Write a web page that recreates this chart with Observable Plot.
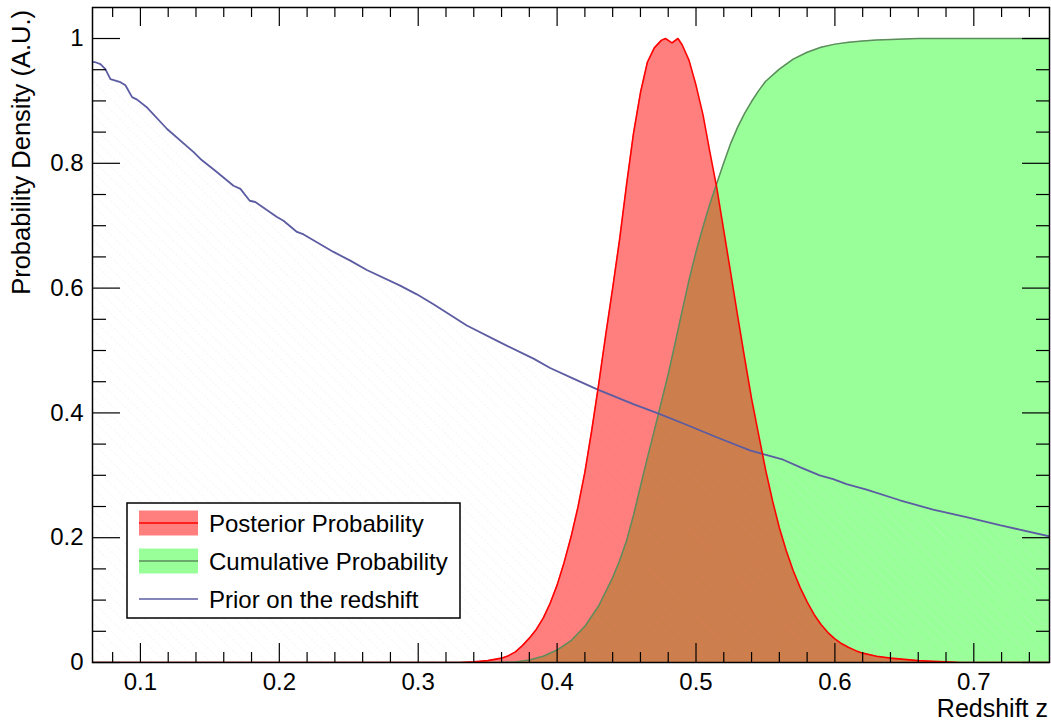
<!DOCTYPE html>
<html><head><meta charset="utf-8">
<script src="https://cdn.jsdelivr.net/npm/d3@7"></script>
<script src="https://cdn.jsdelivr.net/npm/@observablehq/plot@0.6"></script>
<style>body{margin:0;background:#fff;} svg{display:block}</style>
</head><body><div id="chart"></div>
<script>
// ---- data ----
const priorZ = [0.0655, 0.0676, 0.0712, 0.0748, 0.0784, 0.0856, 0.0892, 0.094, 0.0976, 0.105, 0.1192, 0.1383, 0.1432, 0.155, 0.167, 0.172, 0.1787, 0.1827, 0.1983, 0.203, 0.2127, 0.2175, 0.239, 0.2511, 0.263, 0.287, 0.299, 0.311, 0.335, 0.359, 0.383, 0.395, 0.4117, 0.4297, 0.4549, 0.4717, 0.4909, 0.5149, 0.5388, 0.5484, 0.5628, 0.5748, 0.589, 0.5988, 0.6084, 0.6228, 0.6468, 0.6707, 0.6947, 0.7187, 0.733, 0.7547];
const priorP = [0.962, 0.962, 0.959, 0.951, 0.935, 0.930, 0.925, 0.906, 0.902, 0.889, 0.855, 0.818, 0.807, 0.786, 0.764, 0.759, 0.740, 0.738, 0.714, 0.708, 0.690, 0.686, 0.658, 0.644, 0.629, 0.604, 0.590, 0.574, 0.540, 0.513, 0.487, 0.472, 0.455, 0.437, 0.414, 0.400, 0.383, 0.361, 0.340, 0.334, 0.325, 0.313, 0.300, 0.294, 0.286, 0.277, 0.260, 0.245, 0.233, 0.220, 0.213, 0.202];

const postZ = [0.0655, 0.33, 0.34, 0.35, 0.355, 0.36, 0.365, 0.37, 0.375, 0.38, 0.385, 0.39, 0.395, 0.40, 0.405, 0.41, 0.415, 0.42, 0.425, 0.43, 0.435, 0.44, 0.445, 0.45, 0.455, 0.46, 0.465, 0.47, 0.475, 0.478, 0.4827, 0.487, 0.49, 0.495, 0.50, 0.505, 0.51, 0.515, 0.52, 0.525, 0.53, 0.535, 0.54, 0.545, 0.55, 0.555, 0.56, 0.565, 0.57, 0.575, 0.58, 0.585, 0.59, 0.595, 0.60, 0.605, 0.61, 0.615, 0.62, 0.63, 0.64, 0.65, 0.66, 0.67, 0.68, 0.69, 0.7545];
const postP = [0, 0, 0.001, 0.003, 0.005, 0.007, 0.011, 0.017, 0.027, 0.039, 0.053, 0.071, 0.095, 0.124, 0.160, 0.201, 0.249, 0.305, 0.373, 0.447, 0.525, 0.600, 0.678, 0.766, 0.848, 0.913, 0.962, 0.985, 0.997, 1.0, 0.993, 1.0, 0.990, 0.965, 0.925, 0.878, 0.818, 0.760, 0.692, 0.624, 0.555, 0.488, 0.423, 0.366, 0.310, 0.260, 0.216, 0.179, 0.147, 0.120, 0.097, 0.077, 0.061, 0.048, 0.038, 0.030, 0.024, 0.019, 0.015, 0.010, 0.007, 0.005, 0.003, 0.002, 0.001, 0, 0];

const cumZ = [0.0655, 0.36, 0.37, 0.38, 0.39, 0.40, 0.41, 0.42, 0.43, 0.44, 0.445, 0.45, 0.455, 0.46, 0.465, 0.47, 0.475, 0.48, 0.485, 0.49, 0.495, 0.50, 0.505, 0.51, 0.515, 0.52, 0.525, 0.53, 0.535, 0.54, 0.545, 0.55, 0.56, 0.57, 0.58, 0.59, 0.60, 0.61, 0.62, 0.63, 0.64, 0.65, 0.66, 0.7545];
const cumP = [0, 0, 0.001, 0.004, 0.010, 0.020, 0.035, 0.058, 0.091, 0.136, 0.163, 0.195, 0.236, 0.282, 0.328, 0.372, 0.417, 0.462, 0.512, 0.563, 0.613, 0.658, 0.698, 0.735, 0.768, 0.801, 0.832, 0.858, 0.880, 0.899, 0.916, 0.931, 0.951, 0.967, 0.978, 0.986, 0.991, 0.994, 0.996, 0.9975, 0.9985, 0.9993, 1.0, 1.0];

const xMajor = [0.1, 0.2, 0.3, 0.4, 0.5, 0.6, 0.7];
const xMinor = [0.08, 0.12, 0.14, 0.16, 0.18, 0.22, 0.24, 0.26, 0.28, 0.32, 0.34, 0.36, 0.38, 0.42, 0.44, 0.46, 0.48, 0.52, 0.54, 0.56, 0.58, 0.62, 0.64, 0.66, 0.68, 0.72, 0.74];
const yMajor = [0, 0.2, 0.4, 0.6, 0.8, 1];
const yMinor = [0.05, 0.1, 0.15, 0.25, 0.3, 0.35, 0.45, 0.5, 0.55, 0.65, 0.7, 0.75, 0.85, 0.9, 0.95];

const legendLabels = ["Posterior Probability", "Cumulative Probability", "Prior on the redshift"];
const xTitle = "Redshift z";
const yTitle = "Probability Density (A.U.)";

// ---- build tables ----
const prior = priorZ.map((z, i) => ({z, p: priorP[i]}));
const post = postZ.map((z, i) => ({z, p: postP[i]}));
const cum = cumZ.map((z, i) => ({z, p: cumP[i]}));

const W = 1051, H = 724, mL = 92, mT = 7, mR = 2, mB = 62;
const iw = W - mL - mR, ih = H - mT - mB;
const FONT = "'Liberation Sans', Arial, Helvetica, sans-serif";

const RED = "#ff0000", GREEN = "#99ff99", GREENLINE = "#5e8c5e", BLUE = "#5c5ca2";

const svg = Plot.plot({
  width: W, height: H,
  marginLeft: mL, marginTop: mT, marginRight: mR, marginBottom: mB,
  style: {fontFamily: FONT, background: "#fff", color: "#000"},
  x: {domain: [0.0655, 0.7545]},
  y: {domain: [0, 1.0497]},
  marks: [
    Plot.areaY(cum, {x: "z", y: "p", fill: GREEN, clip: true}),
    Plot.areaY(prior, {x: "z", y: "p", fill: "url(#priorHatch)", clip: true}),
    Plot.areaY(post, {x: "z", y: "p", fill: RED, fillOpacity: 0.5, clip: true}),
    Plot.lineY(cum, {x: "z", y: "p", stroke: GREENLINE, strokeWidth: 1.5, clip: true}),
    Plot.lineY(prior, {x: "z", y: "p", stroke: BLUE, strokeWidth: 1.8, clip: true}),
    Plot.lineY(post, {x: "z", y: "p", stroke: RED, strokeWidth: 1.6, clip: true}),
    // ticks on all four sides, pointing inward
    Plot.tickX(xMajor, {x: d => d, insetTop: ih - 19, stroke: "#000", strokeWidth: 1.2}),
    Plot.tickX(xMinor, {x: d => d, insetTop: ih - 10, stroke: "#000", strokeWidth: 1.2}),
    Plot.tickX(xMajor, {x: d => d, insetBottom: ih - 19, stroke: "#000", strokeWidth: 1.2}),
    Plot.tickX(xMinor, {x: d => d, insetBottom: ih - 10, stroke: "#000", strokeWidth: 1.2}),
    Plot.tickY(yMajor, {y: d => d, insetRight: iw - 28, stroke: "#000", strokeWidth: 1.2}),
    Plot.tickY(yMinor, {y: d => d, insetRight: iw - 14, stroke: "#000", strokeWidth: 1.2}),
    Plot.tickY(yMajor, {y: d => d, insetLeft: iw - 27, stroke: "#000", strokeWidth: 1.2}),
    Plot.tickY(yMinor, {y: d => d, insetLeft: iw - 13, stroke: "#000", strokeWidth: 1.2}),
    Plot.frame({stroke: "#000", strokeWidth: 1.5}),
    Plot.axisX(xMajor, {tickSize: 0, tickPadding: 10, fontSize: 24, tickFormat: d => String(d), label: null}),
    Plot.axisY(yMajor, {tickSize: 0, tickPadding: 9, fontSize: 24, tickFormat: d => String(d), label: null})
  ]
});

// ---- pattern for the prior hatch ----
const sel = d3.select(svg);
const defs = sel.insert("defs", ":first-child");
const hatch = defs.append("pattern").attr("id", "priorHatch").attr("width", 8).attr("height", 8)
  .attr("patternUnits", "userSpaceOnUse").attr("patternTransform", "rotate(-45)");
hatch.append("line").attr("x1", 0).attr("y1", 0).attr("x2", 0).attr("y2", 8)
  .attr("stroke", "#dedef0").attr("stroke-width", 1).attr("stroke-dasharray", "2 2").attr("opacity", 0.55);

// ---- legend ----
const lg = sel.append("g").attr("font-family", FONT).attr("text-anchor", "start");
lg.append("rect").attr("x", 127).attr("y", 503).attr("width", 333).attr("height", 115)
  .attr("fill", "#fff").attr("stroke", "#000").attr("stroke-width", 1.5);
const rows = [523, 561, 599];
lg.append("rect").attr("x", 139).attr("y", rows[0] - 12.5).attr("width", 59).attr("height", 25).attr("fill", RED).attr("fill-opacity", 0.5);
lg.append("line").attr("x1", 139).attr("x2", 198).attr("y1", rows[0]).attr("y2", rows[0]).attr("stroke", RED).attr("stroke-width", 1.5);
lg.append("rect").attr("x", 139).attr("y", rows[1] - 12.5).attr("width", 59).attr("height", 25).attr("fill", GREEN);
lg.append("line").attr("x1", 139).attr("x2", 198).attr("y1", rows[1]).attr("y2", rows[1]).attr("stroke", GREENLINE).attr("stroke-width", 1.5);
lg.append("line").attr("x1", 139).attr("x2", 198).attr("y1", rows[2]).attr("y2", rows[2]).attr("stroke", BLUE).attr("stroke-width", 1.5);
legendLabels.forEach((t, i) => {
  lg.append("text").attr("x", 209).attr("y", rows[i] + 8.5).attr("font-size", 24)
    .attr("text-anchor", "start").attr("fill", "#000").text(t);
});

// ---- axis titles ----
sel.append("text").attr("x", 1048).attr("y", 717).attr("text-anchor", "end")
  .attr("font-family", FONT).attr("font-size", 25).attr("fill", "#000").text(xTitle);
sel.append("text").attr("transform", "translate(30,10) rotate(-90)").attr("text-anchor", "end")
  .attr("font-family", FONT).attr("font-size", 25.5).attr("fill", "#000").text(yTitle);

document.getElementById("chart").appendChild(svg);
</script>
</body></html>
